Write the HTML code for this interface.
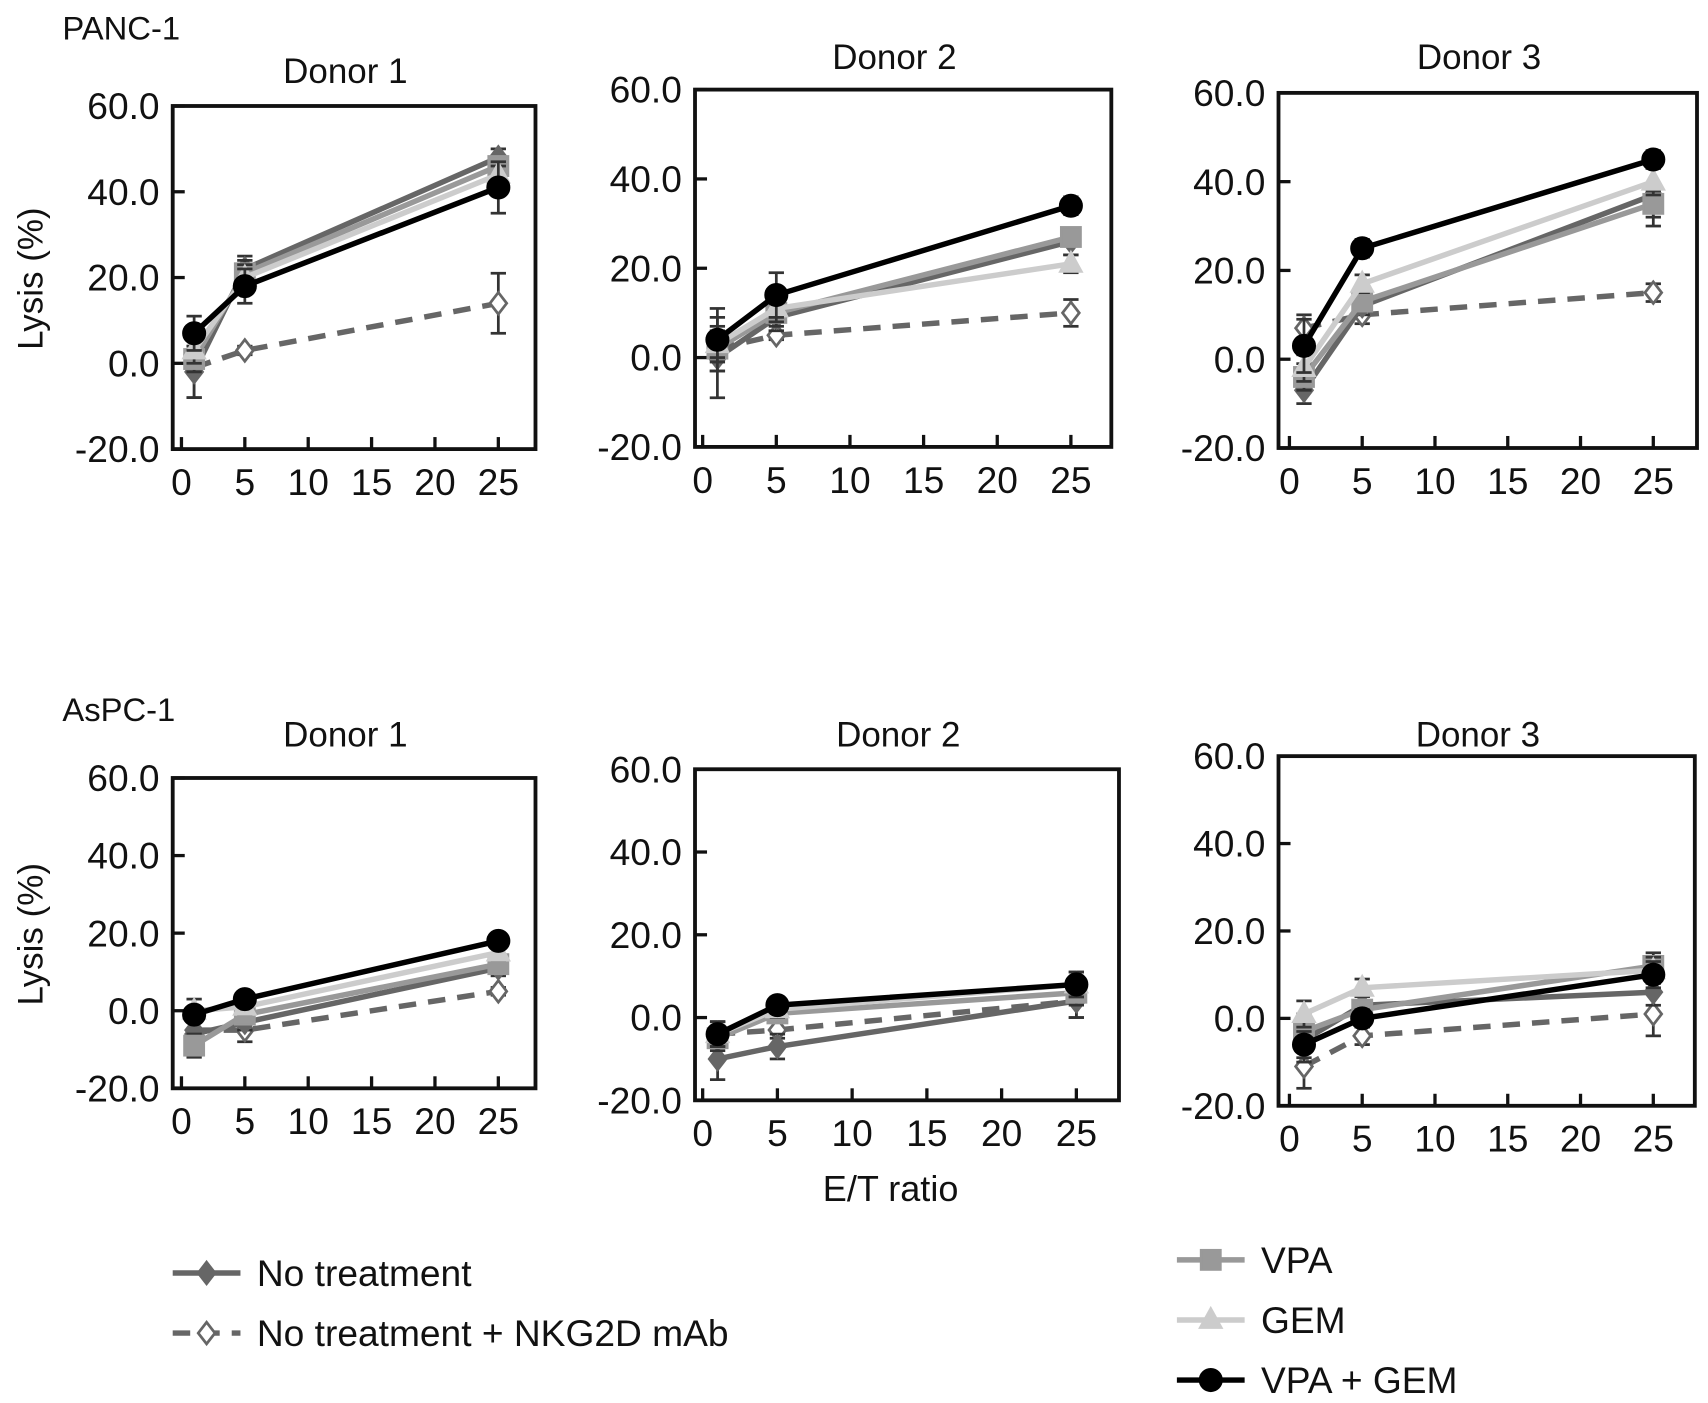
<!DOCTYPE html>
<html><head><meta charset="utf-8"><style>
html,body{margin:0;padding:0;background:#fff}
svg{display:block}
text{font-family:"Liberation Sans",Arial,sans-serif;fill:#111}
</style></head><body>
<svg id="fig" width="1708" height="1403" viewBox="0 0 1563 1284" xmlns="http://www.w3.org/2000/svg">
<text x="57" y="36" font-size="30">PANC-1</text>
<text x="57" y="660" font-size="30">AsPC-1</text>
<text x="0" y="0" font-size="32" transform="translate(39,255) rotate(-90)" text-anchor="middle">Lysis (%)</text>
<text x="0" y="0" font-size="32" transform="translate(39,855) rotate(-90)" text-anchor="middle">Lysis (%)</text>
<text x="815" y="1099" font-size="33" text-anchor="middle">E/T ratio</text>
<g id="legend"></g>
</svg>
<script>
const xVals = [1, 5, 25];
const seriesNames = ['No treatment', 'No treatment + NKG2D mAb', 'VPA', 'GEM', 'VPA + GEM'];
const yTicks = [-20, 0, 20, 40, 60];
const xTicks = [0, 5, 10, 15, 20, 25];
const panelTitles = ['Donor 1', 'Donor 2', 'Donor 3', 'Donor 1', 'Donor 2', 'Donor 3'];
// values per panel: [NT, NKG2D, VPA, GEM, VPA+GEM]
const p1 = [[-2, 22, 48], [-1, 3, 14], [1, 21, 46], [3, 20, 44], [7, 18, 41]];
const p2 = [[0, 9, 26], [2, 5, 10], [2, 10, 27], [3, 11, 21], [4, 14, 34]];
const p3 = [[-7, 12, 37], [7, 10, 15], [-4, 13, 35], [-2, 17, 40], [3, 25, 45]];
const p4 = [[-6, -3, 11], [-5, -5, 5], [-9, -1, 12], [0, 1, 15], [-1, 3, 18]];
const p5 = [[-10, -7, 4], [-4, -3, 4], [-5, 1, 6], [-4, 2, 8], [-4, 3, 8]];
const p6 = [[-5, 3, 6], [-11, -4, 1], [-3, 2, 12], [1, 7, 11], [-6, 0, 10]];
const e1 = [[6, 3, 2], [7, 1, 7], [3, 3, 2], [3, 3, 2], [4, 4, 6]];
const e2 = [[9, 3, 3], [5, 1, 3], [3, 3, 2], [3, 3, 2], [7, 5, 2]];
const e3 = [[3, 2, 7], [3, 2, 2], [3, 2, 3], [3, 2, 3], [6, 2, 2]];
const e4 = [[3, 2, 2], [3, 3, 1], [3, 2, 2], [3, 2, 2], [2, 2, 2]];
const e5 = [[5, 3, 4], [3, 2, 4], [3, 2, 3], [3, 2, 3], [3, 2, 3]];
const e6 = [[5, 2, 3], [5, 2, 5], [4, 2, 3], [3, 2, 3], [3, 2, 3]];
const panelData = [p1, p2, p3, p4, p5, p6];
const panelErr = [e1, e2, e3, e4, e5, e6];

const layout = [
 {l:158,r:490,t:97,b:411,x0:166,x25:456,ty:65},
 {l:636,r:1017,t:82,b:409,x0:643,x25:980,ty:52},
 {l:1170,r:1553,t:85,b:410,x0:1180,x25:1513,ty:52},
 {l:158,r:490,t:712,b:996,x0:166,x25:456,ty:672},
 {l:636,r:1024,t:704,b:1007,x0:643,x25:985,ty:672},
 {l:1170,r:1551,t:692,b:1012,x0:1180,x25:1513,ty:672}
];
const styles = [
 {c:'#666', m:'diamond', dash:null, fill:'#666'},
 {c:'#666', m:'diamond', dash:'16 11', fill:'#fff'},
 {c:'#999', m:'square', dash:null, fill:'#999'},
 {c:'#ccc', m:'triangle', dash:null, fill:'#ccc'},
 {c:'#000', m:'circle', dash:null, fill:'#000'}
];
const NS='http://www.w3.org/2000/svg';
const svg=document.getElementById('fig');
function mk(tag,attrs,parent){const e=document.createElementNS(NS,tag);for(const k in attrs)e.setAttribute(k,attrs[k]);(parent||svg).appendChild(e);return e;}
function marker(g,m,x,y,s,fill,stroke,sz){
 let e;
 if(m==='circle') e=mk('circle',{cx:x,cy:y,r:sz,fill:fill,stroke:stroke,'stroke-width':2},g);
 else if(m==='square') e=mk('rect',{x:x-sz,y:y-sz,width:2*sz,height:2*sz,fill:fill,stroke:stroke,'stroke-width':2},g);
 else if(m==='triangle') e=mk('polygon',{points:`${x},${y-sz*1.2} ${x+sz*1.1},${y+sz*0.8} ${x-sz*1.1},${y+sz*0.8}`,fill:fill,stroke:stroke,'stroke-width':2},g);
 else e=mk('polygon',{points:`${x},${y-sz*1.1} ${x+sz*0.85},${y} ${x},${y+sz*1.1} ${x-sz*0.85},${y}`,fill:fill,stroke:stroke,'stroke-width':2.5},g);
 return e;
}
layout.forEach((L,pi)=>{
 const g=mk('g',{});
 
 
 const xs=v=>L.x0+(L.x25-L.x0)*v/25;
 const ys=v=>L.b-(L.b-L.t)*(v+20)/80;
 const title=mk('text',{x:(L.l+L.r)/2-8,y:L.ty+11,'font-size':32,'text-anchor':'middle'},g);
 title.textContent=panelTitles[pi];
 
 
 yTicks.forEach(t=>{
  const y=ys(t);
  mk('line',{x1:L.l,x2:L.l+11,y1:y,y2:y,stroke:'#111','stroke-width':3},g);
  const tx=mk('text',{x:L.l-12,y:y+12,'font-size':34,'text-anchor':'end'},g);
  tx.textContent=t.toFixed(1);
  
  
 });
 xTicks.forEach(t=>{
  const x=xs(t);
  mk('line',{x1:x,x2:x,y1:L.b,y2:L.b-11,stroke:'#111','stroke-width':3},g);
  const tx=mk('text',{x:x,y:L.b+42,'font-size':34,'text-anchor':'middle'},g);
  tx.textContent=t;
  
  
 });
 const data=panelData[pi], err=panelErr[pi];
 const order=[1,0,2,3,4];
 order.forEach(si=>{
  const st=styles[si];
  const sg=mk('g',{},g);
  
  
  data[si].forEach((v,i)=>{
   const x=xs(xVals[i]),e=err[si][i];
   mk('line',{x1:x,x2:x,y1:ys(v-e),y2:ys(v+e),stroke:'#333','stroke-width':2.5},sg);
   mk('line',{x1:x-7,x2:x+7,y1:ys(v-e),y2:ys(v-e),stroke:'#333','stroke-width':2.5},sg);
   mk('line',{x1:x-7,x2:x+7,y1:ys(v+e),y2:ys(v+e),stroke:'#333','stroke-width':2.5},sg);
  });
  const pts=data[si].map((v,i)=>xs(xVals[i])+','+ys(v)).join(' ');
  const pl=mk('polyline',{points:pts,fill:'none',stroke:st.c,'stroke-width':5},sg);
  if(st.dash) pl.setAttribute('stroke-dasharray',st.dash);
  data[si].forEach((v,i)=>{
   const mm=marker(sg,st.m,xs(xVals[i]),ys(v),0,st.fill,st.c,st.m==='circle'?10:9);
   
   
  });
 });
 mk('rect',{x:L.l,y:L.t,width:L.r-L.l,height:L.b-L.t,fill:'none',stroke:'#111','stroke-width':3.5},g);
});
const lg=document.getElementById('legend');
const legPos=[[158,1165],[158,1220],[1077,1153],[1077,1208],[1077,1263]];
seriesNames.forEach((n,si)=>{
 const st=styles[si],[x,y]=legPos[si];
 const it=mk('g',{},lg);
 
 
 const ln=mk('line',{x1:x,x2:x+62,y1:y,y2:y,stroke:st.c,'stroke-width':5},it);
 if(st.dash) ln.setAttribute('stroke-dasharray','16 11');
 marker(it,st.m,x+31,y,0,st.fill,st.c,st.m==='circle'?10:9);
 const t=mk('text',{x:x+77,y:y+12,'font-size':34},it);
 t.textContent=n;
});
</script>
</body></html>
